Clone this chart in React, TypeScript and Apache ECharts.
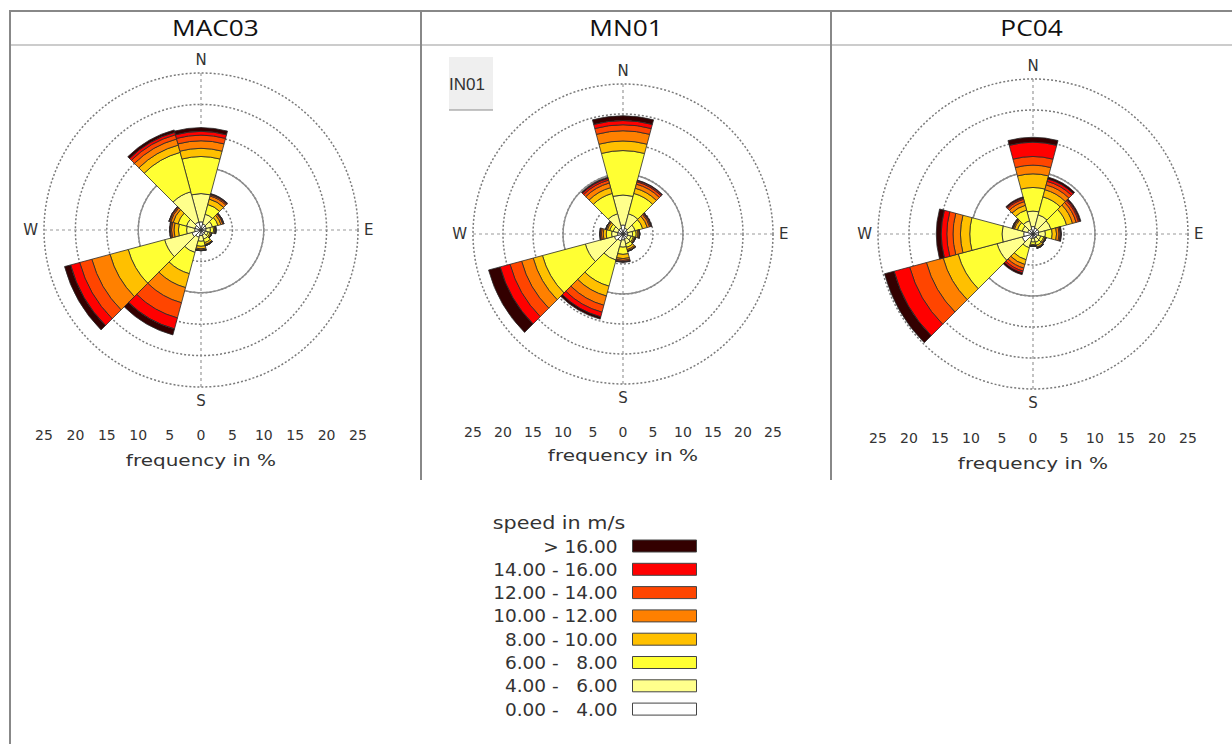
import React, { useEffect, useRef } from 'react';
import * as echarts from 'echarts';

// ---------- data ----------
const STATIONS = ['MAC03', 'MN01', 'PC04'];
// 12 direction sectors, clockwise from north (30° each)
const DIRECTIONS = ['N', '30', '60', 'E', '120', '150', 'S', '210', '240', 'W', '300', '330'];
const COMPASS: Record<number, string> = { 0: 'N', 90: 'E', 180: 'S', 270: 'W' };
const SPEED_CLASSES = [
  '0.00 -\u00a0\u00a0 4.00',
  '4.00 -\u00a0\u00a0 6.00',
  '6.00 -\u00a0\u00a0 8.00',
  '8.00 - 10.00',
  '10.00 - 12.00',
  '12.00 - 14.00',
  '14.00 - 16.00',
  '> 16.00',
];
const SPEED_COLORS = ['#ffffff', '#ffff8c', '#ffff33', '#ffc000', '#ff8000', '#ff4500', '#ff0000', '#330000'];
const FREQ_MAX = 25;
const FREQ_STEP = 5;
const RING_SOLID = 10;

// frequency in % — rows: speed class (0-4 ... >16), columns: direction (N, 30, ..., 330)
const MAC03_FREQ = [
  [1.3, 1.0, 0.9, 0.8, 0.7, 0.8, 0.9, 1.2, 1.5, 1.0, 1.0, 1.3],
  [4.5, 1.6, 1.0, 0.7, 0.5, 0.7, 0.9, 2.5, 4.5, 1.3, 1.4, 5.0],
  [5.9, 1.6, 0.9, 0.5, 0.3, 0.6, 0.8, 3.5, 6.0, 1.3, 1.4, 6.5],
  [1.3, 0.9, 0.5, 0.2, 0.2, 0.3, 0.4, 2.3, 3.0, 0.7, 0.8, 1.2],
  [1.2, 0.5, 0.3, 0.1, 0.1, 0.1, 0.2, 2.5, 3.0, 0.4, 0.4, 1.0],
  [0.9, 0.2, 0.1, 0.1, 0.0, 0.1, 0.1, 2.5, 2.0, 0.2, 0.2, 0.7],
  [0.6, 0.1, 0.1, 0.0, 0.0, 0.0, 0.0, 1.8, 1.5, 0.1, 0.1, 0.4],
  [0.6, 0.1, 0.0, 0.0, 0.0, 0.0, 0.0, 1.0, 1.0, 0.0, 0.0, 0.4],
];
const MN01_FREQ = [
  [1.5, 1.0, 0.8, 0.8, 0.8, 0.9, 1.0, 1.2, 1.5, 0.9, 0.9, 1.0],
  [5.0, 2.5, 1.3, 0.8, 0.6, 0.8, 1.2, 3.3, 5.0, 1.0, 0.8, 2.5],
  [7.4, 3.5, 1.3, 0.6, 0.4, 0.6, 1.2, 4.5, 7.4, 0.9, 0.6, 3.5],
  [1.6, 0.9, 0.8, 0.3, 0.2, 0.4, 0.7, 1.7, 1.6, 0.5, 0.4, 1.0],
  [1.7, 0.7, 0.4, 0.2, 0.1, 0.2, 0.3, 1.6, 2.0, 0.3, 0.2, 0.8],
  [1.0, 0.4, 0.2, 0.1, 0.1, 0.1, 0.2, 1.2, 2.0, 0.2, 0.1, 0.5],
  [0.7, 0.2, 0.1, 0.0, 0.0, 0.0, 0.1, 0.8, 1.7, 0.1, 0.0, 0.3],
  [0.8, 0.1, 0.1, 0.0, 0.0, 0.0, 0.0, 0.4, 2.0, 0.0, 0.0, 0.2],
];
const PC04_FREQ = [
  [1.2, 1.0, 1.0, 0.9, 0.7, 0.7, 0.7, 0.8, 1.8, 1.5, 0.9, 0.8],
  [2.5, 2.2, 2.0, 1.1, 0.6, 0.7, 0.6, 1.5, 4.2, 3.5, 0.9, 1.4],
  [3.8, 3.0, 2.6, 1.1, 0.5, 0.5, 0.4, 2.0, 6.5, 5.2, 0.8, 1.8],
  [2.2, 1.2, 1.0, 0.7, 0.2, 0.3, 0.2, 0.8, 2.5, 1.5, 0.5, 0.8],
  [1.4, 0.8, 0.6, 0.4, 0.1, 0.1, 0.1, 0.6, 2.8, 1.2, 0.2, 0.6],
  [1.4, 0.6, 0.4, 0.2, 0.1, 0.1, 0.0, 0.5, 2.8, 1.0, 0.1, 0.4],
  [2.3, 0.4, 0.2, 0.1, 0.0, 0.0, 0.0, 0.3, 2.6, 0.9, 0.1, 0.2],
  [0.8, 0.3, 0.2, 0.1, 0.0, 0.0, 0.0, 0.3, 1.6, 0.8, 0.0, 0.2],
];
const STATION_FREQ = [MAC03_FREQ, MN01_FREQ, PC04_FREQ];

// ---------- layout (pixels) ----------
const ROSE_LAYOUT = [
  { cx: 201, cy: 230, r: 157, tickY: 435, nameY: 460, headerX: 215.5 },
  { cx: 623, cy: 234, r: 150, tickY: 432, nameY: 455, headerX: 626 },
  { cx: 1033, cy: 234, r: 155, tickY: 438, nameY: 463, headerX: 1031.5 },
];

const FONT = 'DejaVu Sans';

function buildOption() {
  const polar: any[] = [];
  const angleAxis: any[] = [];
  const radiusAxis: any[] = [];
  const grid: any[] = [];
  const xAxis: any[] = [];
  const yAxis: any[] = [];
  const series: any[] = [];
  const graphic: any[] = [];

  ROSE_LAYOUT.forEach((L, k) => {
    const center = [L.cx, L.cy];
    // A: reference grid (dotted rings + dashed cross + compass labels)
    polar.push({ center, radius: L.r });
    angleAxis.push({
      polarIndex: 3 * k, type: 'value', min: 0, max: 360, interval: 90, startAngle: 90, clockwise: true,
      axisLine: { show: false }, axisTick: { show: false },
      splitLine: { show: true, lineStyle: { color: '#999', type: [3, 3], width: 1.2 } },
      axisLabel: { margin: 6, fontSize: 15, fontFamily: FONT, color: '#333', formatter: (v: number) => COMPASS[v] ?? '' },
    });
    radiusAxis.push({
      polarIndex: 3 * k, type: 'value', min: 0, max: FREQ_MAX, interval: FREQ_STEP,
      axisLine: { show: false }, axisTick: { show: false }, axisLabel: { show: false },
      splitLine: { show: true, lineStyle: { color: '#7a7a7a', type: [2, 2], width: 1.5 } },
    });
    // B: bars
    polar.push({ center, radius: L.r });
    angleAxis.push({
      polarIndex: 3 * k + 1, type: 'category', data: DIRECTIONS, startAngle: 105, clockwise: true, boundaryGap: true,
      axisLine: { show: false }, axisTick: { show: false }, axisLabel: { show: false }, splitLine: { show: false },
    });
    radiusAxis.push({ polarIndex: 3 * k + 1, type: 'value', min: 0, max: FREQ_MAX, show: false });
    // C: solid ring at 10 %
    polar.push({ center, radius: (L.r * RING_SOLID) / FREQ_MAX });
    angleAxis.push({
      polarIndex: 3 * k + 2, type: 'value', min: 0, max: 360, startAngle: 90,
      axisLine: { show: true, lineStyle: { color: '#8c8c8c', width: 1.4 } },
      axisTick: { show: false }, axisLabel: { show: false }, splitLine: { show: false },
    });
    radiusAxis.push({
      polarIndex: 3 * k + 2, type: 'value', min: 0, max: RING_SOLID,
      axisLine: { show: false }, axisTick: { show: false }, axisLabel: { show: false }, splitLine: { show: false },
    });

    STATION_FREQ[k].forEach((row, c) => {
      series.push({
        type: 'bar', coordinateSystem: 'polar', polarIndex: 3 * k + 1,
        name: SPEED_CLASSES[c], stack: STATIONS[k], data: row,
        barCategoryGap: '0%',
        itemStyle: { color: SPEED_COLORS[c], borderColor: '#2a2a2a', borderWidth: 0.8 },
        emphasis: { disabled: true }, z: 2,
      });
    });

    // frequency tick labels under each rose
    grid.push({ left: L.cx - L.r, width: 2 * L.r, top: L.tickY - 8, height: 1 });
    xAxis.push({
      gridIndex: k, type: 'value', min: -FREQ_MAX, max: FREQ_MAX, interval: FREQ_STEP,
      axisLine: { show: false }, axisTick: { show: false }, splitLine: { show: false },
      axisLabel: { margin: 0, fontSize: 14, lineHeight: 14, fontFamily: FONT, color: '#333', formatter: (v: number) => String(Math.abs(v)) },
    });
    yAxis.push({ gridIndex: k, type: 'value', show: false });

    graphic.push({
      type: 'text', x: L.cx, y: L.nameY, scaleX: 1.25,
      style: { text: 'frequency in %', fontSize: 16, fontFamily: FONT, fill: '#333', textAlign: 'center', textVerticalAlign: 'middle', align: 'center', verticalAlign: 'middle' },
    });
    graphic.push({
      type: 'text', x: L.headerX, y: 28, scaleX: 1.25,
      style: { text: STATIONS[k], fontSize: 21, fontFamily: 'Open Sans', fill: '#111', textAlign: 'center', textVerticalAlign: 'middle', align: 'center', verticalAlign: 'middle' },
    });
  });

  // table lines
  const tableLine = (x1: number, y1: number, x2: number, y2: number, w: number, c: string) => ({
    type: 'line', shape: { x1, y1, x2, y2 }, style: { stroke: c, lineWidth: w }, silent: true,
  });
  graphic.push(tableLine(10, 11, 1232, 11, 2, '#888'));
  graphic.push(tableLine(10, 45, 1232, 45, 1, '#999'));
  graphic.push(tableLine(10, 10, 10, 744, 2, '#888'));
  graphic.push(tableLine(421, 11, 421, 480, 2, '#888'));
  graphic.push(tableLine(831, 11, 831, 480, 2, '#888'));

  // leftover label box in the MN01 cell
  graphic.push({ type: 'rect', shape: { x: 449, y: 57, width: 44, height: 53 }, style: { fill: '#efefef' } });
  graphic.push(tableLine(449, 110, 493, 110, 1, '#8a8a8a'));
  graphic.push({
    type: 'text', x: 449, y: 84,
    style: { text: 'IN01', fontSize: 17, fontFamily: 'Liberation Sans', fill: '#333', textAlign: 'left', textVerticalAlign: 'middle', align: 'left', verticalAlign: 'middle' },
  });

  graphic.push({
    type: 'text', x: 559, y: 523, scaleX: 1.15,
    style: { text: 'speed in m/s', fontSize: 18, fontFamily: FONT, fill: '#333', textAlign: 'center', textVerticalAlign: 'middle', align: 'center', verticalAlign: 'middle' },
  });

  return {
    animation: false,
    backgroundColor: '#fff',
    polar, angleAxis, radiusAxis, grid, xAxis, yAxis, series, graphic,
    legend: {
      data: [...SPEED_CLASSES].reverse(),
      orient: 'vertical', align: 'right', right: 535, top: 536.5, height: 205, padding: 0,
      itemWidth: 64, itemHeight: 12, itemGap: 4.3, icon: 'rect', selectedMode: false,
      itemStyle: { borderColor: '#444', borderWidth: 1 },
      textStyle: { fontFamily: FONT, fontSize: 18.5, color: '#333', padding: [0, 10, 0, 0] },
    },
  };
}

export default function App() {
  const ref = useRef<HTMLDivElement>(null);
  useEffect(() => {
    const chart = echarts.init(ref.current!, null, { renderer: 'svg' });
    chart.setOption(buildOption() as any);
    return () => chart.dispose();
  }, []);
  return (
    <div
      ref={ref}
      style={{ position: 'absolute', left: 0, top: 0, width: 1232, height: 744, background: '#fff' }}
    />
  );
}
